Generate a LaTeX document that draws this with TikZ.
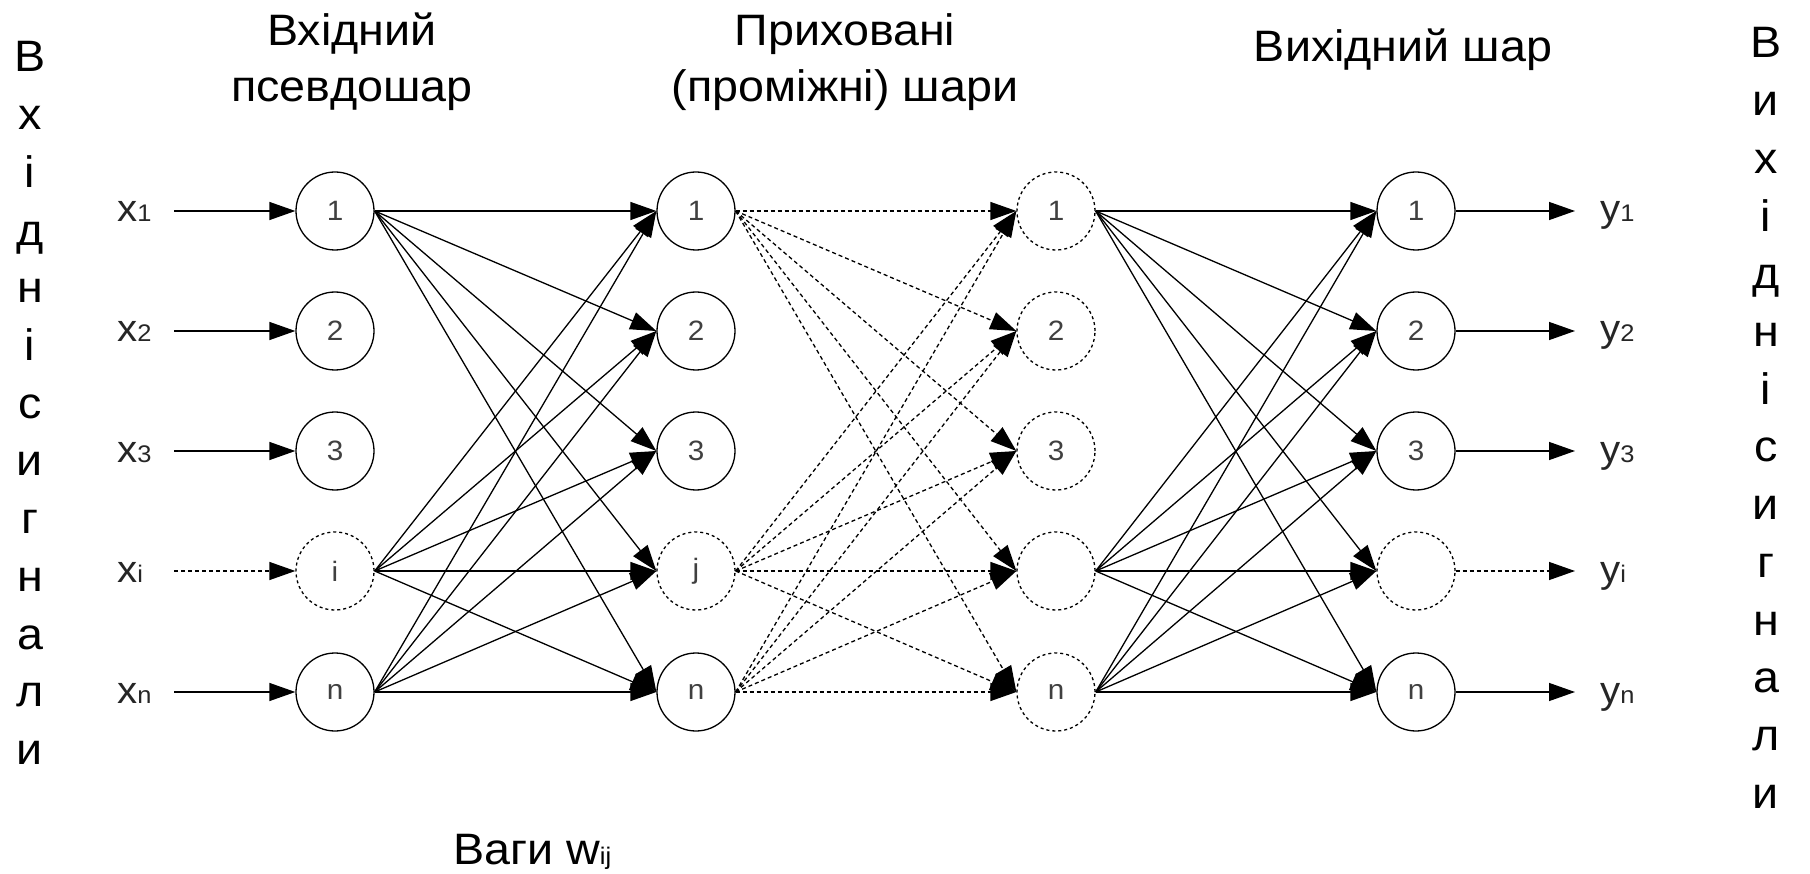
\documentclass[tikz,border=0pt]{standalone}
\usepackage{fontspec}
\setmainfont{Liberation Sans}[FakeStretch=1.06]
\usetikzlibrary{arrows.meta}
\begin{document}
\begin{tikzpicture}[x=1pt,y=-1pt,
  neuron/.style={circle, draw, line width=1.3pt, minimum size=78pt, inner sep=0pt,
    font=\fontsize{28}{28}\selectfont, text=black!75},
  dneuron/.style={neuron, dash pattern=on 3pt off 3pt},
  conn/.style={line width=1.3pt, -{Triangle[length=26pt,width=18pt]}},
  dconn/.style={conn, dash pattern=on 4pt off 3pt},
  big/.style={font=\fontsize{44}{52}\selectfont},
  lbl/.style={anchor=base west, inner sep=0pt, text=black!85}
]
\useasboundingbox (0,0) rectangle (1810,874);
\def\lx#1{{\fontsize{38}{38}\selectfont x}{\fontsize{24}{24}\selectfont #1}}
\def\ly#1{{\fontsize{38}{38}\selectfont y}{\fontsize{24}{24}\selectfont #1}}

% titles
\node[big, anchor=base] (t1a) at (352,46) {Вхідний};
\node[big, anchor=base] (t1b) at (352,102) {псевдошар};
\node[big, anchor=base] (t2a) at (845,46) {Приховані};
\node[big, anchor=base] (t2b) at (845,102) {(проміжні) шари};
\node[big, anchor=base] (t3) at (1403,62) {Вихідний шар};
\node[big, anchor=base west, inner sep=0pt] (w) at (453,864) {Ваги w{\fontsize{24}{24}\selectfont ij}};

% vertical labels
\foreach \ch [count=\k from 0] in {В,х,і,д,н,і,с,и,г,н,а,л,и}
  \node[big, anchor=base, inner sep=0pt] (vl\k) at (30,{72+57.7*\k}) {\ch};
\foreach \ch [count=\k from 0] in {В,и,х,і,д,н,і,с,и,г,н,а,л,и}
  \node[big, anchor=base, inner sep=0pt] (vr\k) at (1766,{58+57.7*\k}) {\ch};

% layer 1
\node[neuron]  (a1) at (335,211) {1};
\node[neuron]  (a2) at (335,331) {2};
\node[neuron]  (a3) at (335,451) {3};
\node[dneuron] (a4) at (335,571) {i};
\node[neuron]  (a5) at (335,692) {n};
% layer 2
\node[neuron]  (b1) at (696,211) {1};
\node[neuron]  (b2) at (696,331) {2};
\node[neuron]  (b3) at (696,451) {3};
\node[dneuron] (b4) at (696,571) {j};
\node[neuron]  (b5) at (696,692) {n};
% layer 3
\node[dneuron] (c1) at (1056,211) {1};
\node[dneuron] (c2) at (1056,331) {2};
\node[dneuron] (c3) at (1056,451) {3};
\node[dneuron] (c4) at (1056,571) {};
\node[dneuron] (c5) at (1056,692) {n};
% layer 4
\node[neuron]  (d1) at (1416,211) {1};
\node[neuron]  (d2) at (1416,331) {2};
\node[neuron]  (d3) at (1416,451) {3};
\node[dneuron] (d4) at (1416,571) {};
\node[neuron]  (d5) at (1416,692) {n};

% input labels and arrow starts
\node[lbl] (x1) at (117,222) {\lx{1}};
\node[lbl] (x2) at (117,342) {\lx{2}};
\node[lbl] (x3) at (117,462) {\lx{3}};
\node[lbl] (x4) at (117,582) {\lx{i}};
\node[lbl] (x5) at (117,703) {\lx{n}};
\foreach \i/\y in {1/211,2/331,3/451,4/571,5/692} {
  \coordinate (xs\i) at (174,\y);
  \coordinate (ye\i) at (1575,\y);
}
\node[lbl] (y1) at (1600,222) {\ly{1}};
\node[lbl] (y2) at (1600,342) {\ly{2}};
\node[lbl] (y3) at (1600,462) {\ly{3}};
\node[lbl] (y4) at (1600,582) {\ly{i}};
\node[lbl] (y5) at (1600,703) {\ly{n}};

\foreach \i in {1,2,3,5} {
  \draw[conn] (xs\i) -- (a\i.west);
  \draw[conn] (d\i.east) -- (ye\i);
}
\draw[dconn] (xs4) -- (a4.west);
\draw[dconn] (d4.east) -- (ye4);

% weights
\foreach \s in {1,4,5} \foreach \t in {1,...,5} {
  \draw[conn]  (a\s.east) -- (b\t.west);
  \draw[dconn] (b\s.east) -- (c\t.west);
  \draw[conn]  (c\s.east) -- (d\t.west);
}
\end{tikzpicture}
\end{document}
